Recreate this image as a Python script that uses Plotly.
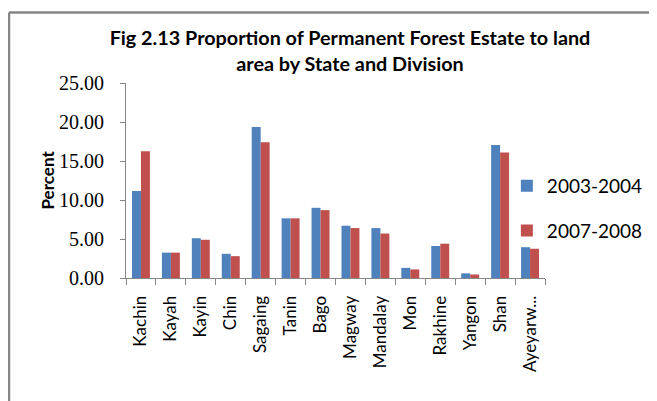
import plotly.graph_objects as go

# Fig 2.13 data
REGIONS = ["Kachin", "Kayah", "Kayin", "Chin", "Sagaing", "Tanin", "Bago",
           "Magway", "Mandalay", "Mon", "Rakhine", "Yangon", "Shan", "Ayeyarw..."]
Y2003 = [11.15, 3.25, 5.10, 3.10, 19.35, 7.65, 9.00, 6.70, 6.40, 1.30, 4.10, 0.60, 17.05, 3.95]
Y2008 = [16.25, 3.25, 4.90, 2.80, 17.40, 7.65, 8.70, 6.40, 5.70, 1.10, 4.40, 0.45, 16.10, 3.75]
SERIES = ["2003-2004", "2007-2008"]
Y_TICKS = [0, 5, 10, 15, 20, 25]

BLUE = "#4F81BD"
RED = "#C0504D"
AXIS = "#878787"
FONT = "Lato"

fig = go.Figure()
for name, vals, color in [(SERIES[0], Y2003, BLUE), (SERIES[1], Y2008, RED)]:
    fig.add_trace(go.Bar(
        x=REGIONS, y=vals, name=name, legendgroup=name,
        marker=dict(color=color, line=dict(width=0)),
    ))

# page body has an 8px margin, so the figure sits 8px right/down in the window
fig.update_layout(
    width=657, height=401,
    paper_bgcolor="white", plot_bgcolor="white",
    margin=dict(l=118, r=120, t=75, b=131, autoexpand=False),
    barmode="group", bargap=0.4, bargroupgap=0,
    font=dict(family=FONT, color="black", size=16),
    title=dict(
        text="Fig 2.13 Proportion of Permanent Forest Estate to land<br>area by State and Division",
        x=342 / 657, xanchor="center", xref="container",
        y=(401 - 37) / 401, yanchor="top",
        font=dict(family=FONT, size=19.8, color="black", weight="bold"),
    ),
    legend=dict(
        x=0.909, xanchor="left", y=0.57, yanchor="top",
        font=dict(family=FONT, size=19),
        tracegroupgap=17, bgcolor="rgba(0,0,0,0)",
    ),
    showlegend=True,
)

fig.update_xaxes(
    type="category", tickangle=-90, tickson="boundaries",
    ticks="outside", ticklen=6, tickcolor=AXIS,
    showline=True, linecolor=AXIS, linewidth=1, showgrid=False,
    tickfont=dict(family=FONT, size=17), ticklabelstandoff=10, automargin=False,
)
fig.update_yaxes(
    range=[0, 25], tickvals=Y_TICKS, tickformat=".2f",
    ticks="outside", ticklen=5, tickcolor=AXIS,
    showline=True, linecolor=AXIS, linewidth=1, showgrid=False, zeroline=False,
    tickfont=dict(family="Liberation Serif", size=20),
    ticklabelstandoff=12, automargin=False,
)

fig.add_annotation(
    text="<b>Percent</b>", textangle=-90, showarrow=False,
    xref="paper", yref="paper", x=(47 - 126) / 419, y=0.5,
    xanchor="center", yanchor="middle",
    font=dict(family=FONT, size=17, color="black"),
)

# chart frame (only left and top edges fall inside the picture)
fig.add_shape(type="line", xref="paper", yref="paper",
              x0=-0.2792, x1=2, y0=1.3615, y1=1.3615,
              line=dict(color=AXIS, width=2.5))
fig.add_shape(type="line", xref="paper", yref="paper",
              x0=-0.2792, x1=-0.2792, y0=1.3615, y1=-2,
              line=dict(color=AXIS, width=2.5))

fig.write_html("out.html")
